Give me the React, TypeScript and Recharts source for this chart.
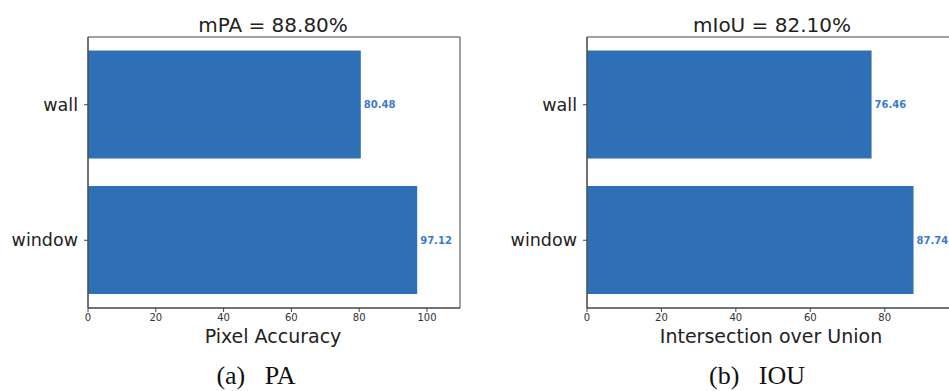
import { BarChart, Bar, XAxis, YAxis, LabelList, ReferenceArea } from "recharts";

const CLASSES = ["wall", "window"];
const PIXEL_ACCURACY = [80.48, 97.12];
const IOU = [76.46, 87.74];
const PA_TICKS = [0, 20, 40, 60, 80, 100];
const IOU_TICKS = [0, 20, 40, 60, 80];

const BAR_COLOR = "#2e6fb6";
const LABEL_COLOR = "#3b7bcc";
const AXIS_COLOR = "#444";
const FONT = "'DejaVu Sans', sans-serif";

interface PanelProps {
  values: number[];
  ticks: number[];
  left: number;
  width: number;
  marginLeft: number;
  marginRight: number;
}

function Panel({ values, ticks, left, width, marginLeft, marginRight }: PanelProps) {
  const data = CLASSES.map((name, i) => ({ name, value: values[i] }));
  const xMax = Math.max(...values) * 1.13;
  return (
    <div style={{ position: "absolute", left, top: 0 }}>
      <BarChart
        width={width}
        height={391}
        data={data}
        layout="vertical"
        barCategoryGap="10%"
        margin={{ top: 37, right: marginRight, bottom: 53, left: marginLeft }}
      >
        <XAxis
          type="number"
          domain={[0, xMax]}
          ticks={ticks}
          allowDataOverflow
          height={30}
          tickSize={4}
          tickMargin={2}
          stroke={AXIS_COLOR}
          tick={{ fontSize: 10, fill: "#333", fontFamily: FONT }}
        />
        <YAxis
          type="category"
          dataKey="name"
          width={80}
          tickSize={4}
          tickMargin={6}
          stroke={AXIS_COLOR}
          tick={{ fontSize: 17.5, fill: "#222", fontFamily: FONT }}
        />
        <Bar dataKey="value" fill={BAR_COLOR} isAnimationActive={false}>
          <LabelList
            dataKey="value"
            position="right"
            offset={3}
            formatter={(v: any) => Number(v).toFixed(2)}
            style={{ fontSize: 10, fontWeight: "bold", fill: LABEL_COLOR, fontFamily: FONT }}
          />
        </Bar>
        <ReferenceArea x1={0} x2={xMax} fill="none" stroke={AXIS_COLOR} strokeWidth={1} ifOverflow="extendDomain" />
      </BarChart>
    </div>
  );
}

export default function App() {
  return (
    <div
      style={{
        position: "absolute",
        left: 0,
        top: 0,
        width: 949,
        height: 391,
        overflow: "hidden",
        background: "#fff",
      }}
    >
      <Panel values={PIXEL_ACCURACY} ticks={PA_TICKS} left={0} width={480} marginLeft={8} marginRight={20} />
      <Panel values={IOU} ticks={IOU_TICKS} left={480} width={500} marginLeft={27} marginRight={24} />
      <svg width={949} height={391} style={{ position: "absolute", left: 0, top: 0, pointerEvents: "none" }}>
        <g fontFamily={FONT} fill="#222" textAnchor="middle">
          <text x={273} y={32} fontSize={20}>mPA = 88.80%</text>
          <text x={772} y={32} fontSize={20}>mIoU = 82.10%</text>
          <text x={273} y={343} fontSize={19}>Pixel Accuracy</text>
          <text x={771} y={343} fontSize={19}>Intersection over Union</text>
        </g>
        <g fontFamily="'Liberation Serif', 'Times New Roman', serif" fill="#111" textAnchor="middle" fontSize={26}>
          <text x={256} y={384} style={{ whiteSpace: "pre" }}>(a)   PA</text>
          <text x={757} y={384} style={{ whiteSpace: "pre" }}>(b)   IOU</text>
        </g>
      </svg>
    </div>
  );
}
